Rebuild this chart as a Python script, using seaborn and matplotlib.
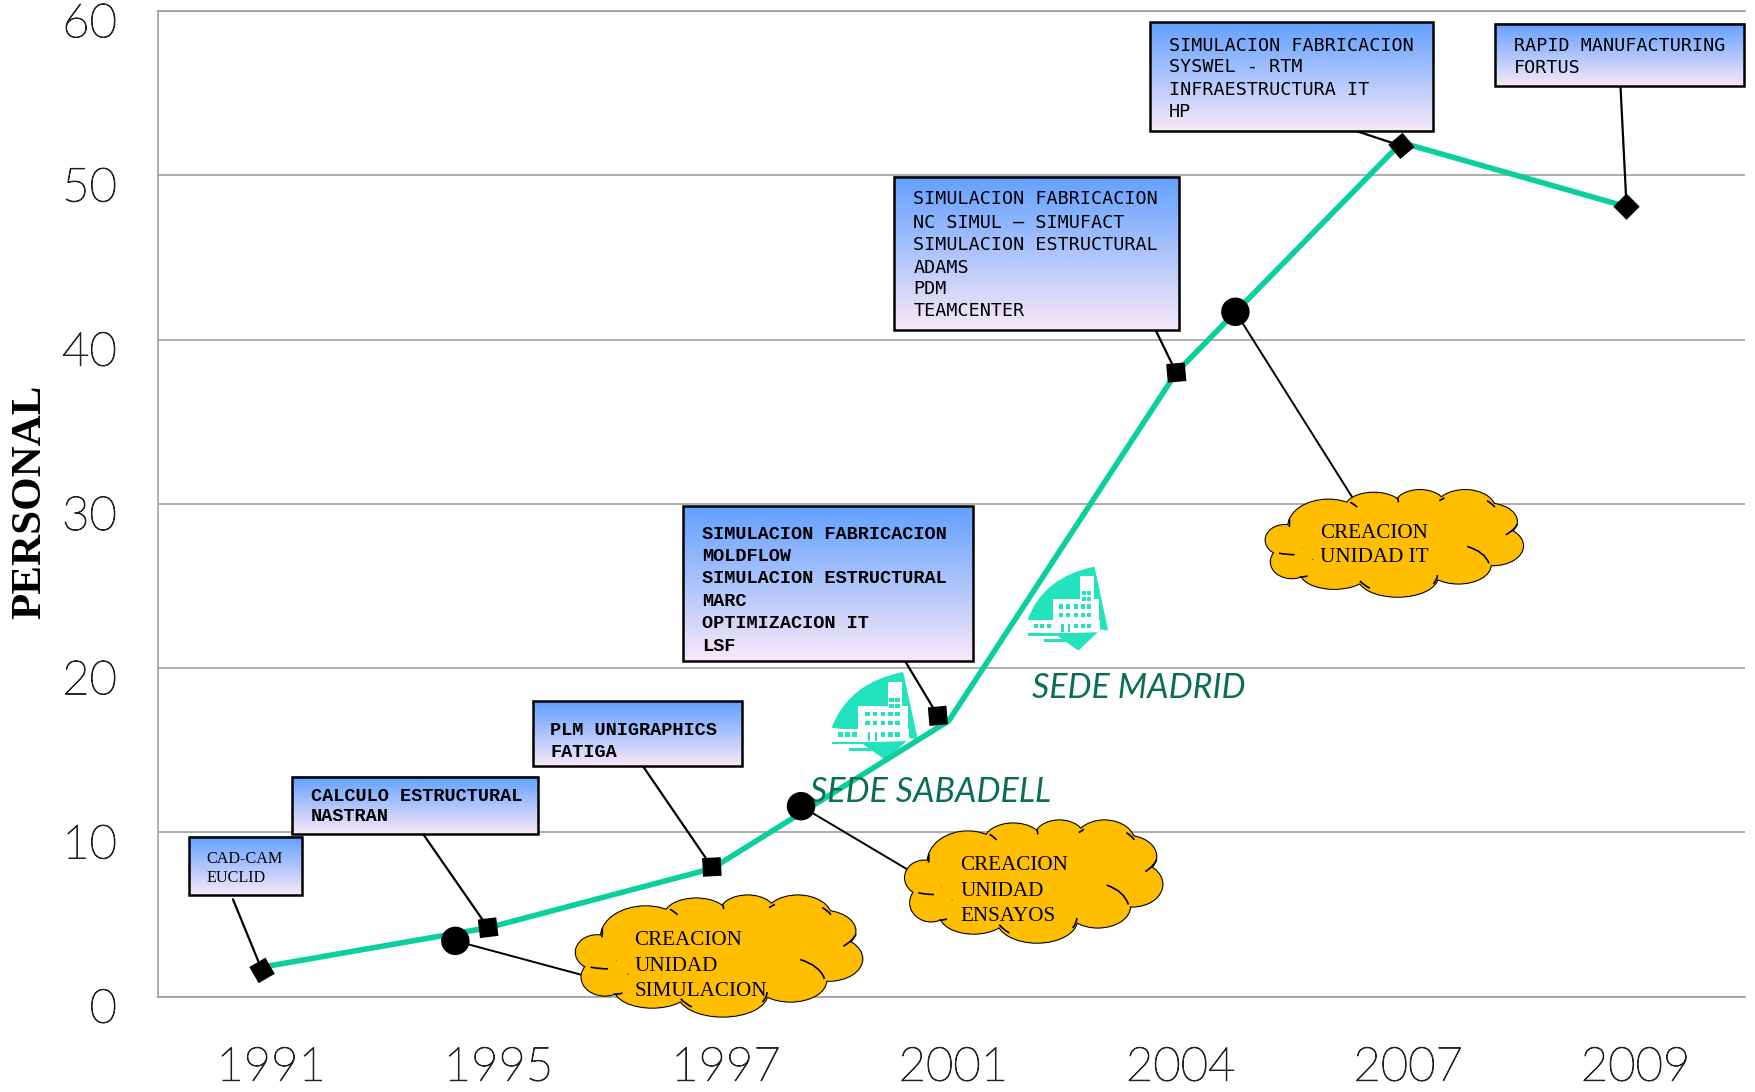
import matplotlib
matplotlib.use('Agg')
import numpy as np
import pandas as pd
import matplotlib.pyplot as plt
import matplotlib.patheffects as pe
import seaborn as sns
from matplotlib.patches import Ellipse, Rectangle, PathPatch
from matplotlib.path import Path
from matplotlib.transforms import Affine2D, ScaledTranslation

# values
years = ['1991', '1995', '1997', '2001', '2004', '2007', '2009']
tick_pos = [0, 1, 2, 3, 4, 5, 6]
marker_pos = [0, 0.994, 1.978, 2.972, 4.02, 5.01, 6]
personal = [1.6, 4.2, 7.9, 17.1, 38.0, 51.8, 48.1]
line_pos = [0, 0.994, 1.978, 3.02, 4.02, 5.01, 6]
line_personal = [1.8, 4.2, 7.8, 16.8, 38.0, 52.0, 48.1]
marker_angles = [75, 52, 48, 50, 50, 85, 90]
milestone_pos = [0.85, 2.37, 4.28]
milestone_personal = [3.4, 11.6, 41.7]
yticks = [0, 10, 20, 30, 40, 50, 60]

# text notes: lines, and where they sit in the 1568x975 view of the reference
boxes = [
    (['CAD-CAM', 'EUCLID'], (169, 747, 270, 799), 185, [766, 783], 'serif'),
    (['CALCULO ESTRUCTURAL', 'NASTRAN'], (261, 694, 481, 745), 278, [710, 728], 'bold'),
    (['PLM UNIGRAPHICS', 'FATIGA'], (476, 626, 663, 684), 492, [651, 671], 'bold'),
    (['SIMULACION FABRICACION', 'MOLDFLOW', 'SIMULACION ESTRUCTURAL', 'MARC', 'OPTIMIZACION IT', 'LSF'],
     (610, 452, 869, 590), 627, [476, 496, 516, 536, 556, 576], 'bold'),
    (['SIMULACION FABRICACION', 'NC SIMUL – SIMUFACT', 'SIMULACION ESTRUCTURAL', 'ADAMS', 'PDM', 'TEAMCENTER'],
     (799, 158, 1053, 295), 816, [177, 198, 218, 238, 257, 277], 'mono'),
    (['SIMULACION FABRICACION', 'SYSWEL - RTM', 'INFRAESTRUCTURA IT', 'HP'],
     (1027, 20, 1280, 117), 1044, [40, 59, 79, 99], 'mono'),
    (['RAPID MANUFACTURING', 'FORTUS'], (1335, 21, 1558, 77), 1352, [40, 60], 'mono'),
]
box_leaders = [(208, 803), (378, 745), (574, 684), (808, 590), (1032, 295), (1211, 117), (1447, 77)]

clouds = [
    (['CREACION', 'UNIDAD', 'SIMULACION'], (515, 800, 770, 908), 567, [839, 862, 884]),
    (['CREACION', 'UNIDAD', 'ENSAYOS'], (809, 733, 1038, 842), 858, [772, 795, 817]),
    (['CREACION', 'UNIDAD IT'], (1131, 438, 1360, 533), 1179, [475, 497]),
]
cloud_leaders = [(525, 872), (813, 778), (1210, 448)]

sites = [('SEDE SABADELL', (743, 600, 820, 679), (724, 707)),
         ('SEDE MADRID', (918, 506, 990, 581), (922, 614))]

# cloud lobes in a unit box: cx, cy, rx, ry
lobes = [(.243, .34, .155, .25), (.42, .165, .11, .14), (.6, .137, .095, .137), (.776, .178, .116, .178),
         (.86, .29, .116, .165), (.884, .52, .116, .178), (.75, .70, .124, .17), (.513, .808, .155, .186),
         (.266, .77, .13, .15), (.10, .67, .08, .15), (.073, .466, .073, .137), (.5, .5, .36, .3)]
# the small inner strokes of the cloud
hooks = [[(.784, .526), (.853, .575), (.869, .685)], [(.935, .416), (.969, .37), (.98, .315)],
         [(.05, .589), (.08, .603), (.111, .603)], [(.861, .096), (.88, .12), (.892, .156)],
         [(.328, .11), (.344, .13), (.355, .156)], [(.513, .07), (.515, .09), (.516, .11)],
         [(.675, .096), (.69, .08), (.695, .068)], [(.668, .795), (.668, .835), (.652, .877)],
         [(.366, .85), (.38, .89), (.405, .918)], [(.162, .803), (.147, .814), (.131, .814)],
         [(.09, .342), (.092, .315), (.091, .27)]]

W, H = 1756, 1092
S = W / 1568
GREEN = '#0ccfa0'
TEAL = '#22e3bd'
ORANGE = '#ffbe00'

sns.set_style('whitegrid', {'grid.color': '#a0a0a0', 'axes.edgecolor': '#a0a0a0'})
fig = plt.figure(figsize=(W / 100, H / 100), dpi=100)
ax = fig.add_axes([141 * S / W, 1 - 890 * S / H, 1417 * S / W, 880 * S / H])
view = Affine2D().scale(S, -S).translate(-0.5, H)

# gradient for the note boxes
top = np.array(matplotlib.colors.to_rgb('#62a0ff'))
bottom = np.array(matplotlib.colors.to_rgb('#f8e8f8'))
ramp = np.linspace(0, 1, 64)[:, None, None]
gradient = top * (1 - ramp) + bottom * ramp

df = pd.DataFrame({'pos': line_pos, 'personal': line_personal})
sns.lineplot(data=df, x='pos', y='personal', sort=False, color=GREEN, lw=4, ax=ax, zorder=4)

fonts = {'serif': dict(family='Liberation Serif', fontsize=11.6),
         'bold': dict(family='Liberation Mono', fontweight='bold', fontsize=13.4),
         'mono': dict(family='DejaVu Sans Mono', fontsize=13.2)}

for (lines, (x0, y0, x1, y1), tx, tys, kind), end, px, py in zip(boxes, box_leaders, marker_pos, personal):
    ax.annotate('', xy=(px, py), xytext=(end[0] * S, H - end[1] * S), textcoords='figure pixels',
                arrowprops=dict(arrowstyle='-', color='black', lw=1.6, shrinkA=0, shrinkB=0), zorder=3)
    im = ax.imshow(gradient, aspect='auto', zorder=5, interpolation='bilinear')
    im.set_extent((x0, x1, y1, y0))
    im.set_transform(view)
    im.set_clip_on(False)
    ax.add_patch(Rectangle((x0, y0), x1 - x0, y1 - y0, fill=False, ec='black', lw=1.8, transform=view,
                           clip_on=False, zorder=6))
    for line, ty in zip(lines, tys):
        ax.text(tx, ty + 1, line, transform=view, va='center', ha='left', color='black', zorder=7, **fonts[kind])

for (lines, (x0, y0, x1, y1), tx, tys), end, px, py in zip(clouds, cloud_leaders, milestone_pos, milestone_personal):
    ax.annotate('', xy=(px, py), xytext=(end[0] * S, H - end[1] * S), textcoords='figure pixels',
                arrowprops=dict(arrowstyle='-', color='black', lw=1.4, shrinkA=0, shrinkB=0), zorder=3)
    w, h = x1 - x0, y1 - y0
    for cx, cy, rx, ry in lobes:
        ax.add_patch(Ellipse((x0 + cx * w, y0 + cy * h), 2 * rx * w, 2 * ry * h, fc='black', ec='black', lw=2.2,
                             transform=view, clip_on=False, zorder=5))
    for cx, cy, rx, ry in lobes:
        ax.add_patch(Ellipse((x0 + cx * w, y0 + cy * h), 2 * rx * w, 2 * ry * h, fc=ORANGE, ec=ORANGE, lw=0.6,
                             transform=view, clip_on=False, zorder=5.5))
    unit = Affine2D().scale(w, h).translate(x0, y0) + view
    for hook in hooks:
        ax.add_patch(PathPatch(Path(hook, [Path.MOVETO, Path.CURVE3, Path.CURVE3]), fc='none', ec='black', lw=1.2,
                               transform=unit, clip_on=False, zorder=6))
    for line, ty in zip(lines, tys):
        ax.text(tx, ty + 1, line, transform=view, va='center', ha='left', family='Liberation Serif', fontsize=15.2,
                color='black', zorder=7)

# building icons, drawn in a unit box
for name, (x0, y0, x1, y1), (tx, ty) in sites:
    w, h = x1 - x0, y1 - y0
    unit = Affine2D().scale(w, h).translate(x0, y0) + view
    sail = Path([(0, .63), (.2, .12), (.83, 0), (1, .76), (0, .63)],
                [Path.MOVETO, Path.CURVE3, Path.CURVE3, Path.LINETO, Path.CLOSEPOLY])
    ax.add_patch(PathPatch(sail, fc=TEAL, ec='none', transform=unit, clip_on=False, zorder=2))
    keel = Path([(.34, .8), (.87, .78), (.63, 1), (.34, .8)],
                [Path.MOVETO, Path.LINETO, Path.LINETO, Path.CLOSEPOLY])
    ax.add_patch(PathPatch(keel, fc=TEAL, ec='none', transform=unit, clip_on=False, zorder=2))
    white = [(.65, .11, .17, .4), (.31, .39, .58, .38), (.0, .64, .9, .13)]
    for rx, ry, rw, rh in white:
        ax.add_patch(Rectangle((rx, ry), rw, rh, fc='white', ec='none', transform=unit, clip_on=False, zorder=2.1))
    stripes = [(.01, .79, .6, .03), (.2, .865, .48, .03), (.42, .68, .03, .1), (.5, .68, .03, .1)]
    for row, col_x in [(.29, [.67, .74]), (.36, [.67, .74]), (.45, [.39, .48, .57, .66, .74]),
                       (.55, [.39, .48, .57, .66, .74]), (.68, [.08, .16, .24, .57, .66, .74])]:
        for cx in col_x:
            stripes.append((cx, row, .05, .05))
    for rx, ry, rw, rh in stripes:
        ax.add_patch(Rectangle((rx, ry), rw, rh, fc=TEAL, ec='none', transform=unit, clip_on=False, zorder=2.2))
    ax.text(tx, ty, name, transform=view, va='center', ha='left', family='Lato', style='italic', fontsize=24.5,
            color='#0a6e55', zorder=5)

# markers on the line
for pos, val, angle in zip(marker_pos, personal, marker_angles):
    sns.scatterplot(x=[pos], y=[val], marker=(4, 0, angle), s=360, color='black', edgecolor='none', ax=ax, zorder=8)
sns.scatterplot(x=milestone_pos, y=milestone_personal, marker='o', s=420, color='black', edgecolor='none',
                ax=ax, zorder=8)

ax.set_xlim(-0.458, 6.52)
ax.set_ylim(0, 60)
ax.set_xticks(tick_pos, years)
ax.set_yticks(yticks)
ax.grid(axis='x', visible=False)
ax.grid(axis='y', lw=1.2)
ax.spines['right'].set_visible(False)
for side in ['left', 'top', 'bottom']:
    ax.spines[side].set_linewidth(1.2)
ax.tick_params(length=0)
ax.tick_params(axis='x', pad=36)
ax.tick_params(axis='y', pad=29.5)
dark = [pe.withStroke(linewidth=0.7, foreground='#222222')]
for lab in ax.get_xticklabels():
    lab.set(family='Lato', fontweight='light', fontsize=34, color='#222222', path_effects=dark)
    lab.set_transform(lab.get_transform() + ScaledTranslation(9 / 100, 0, fig.dpi_scale_trans))
for lab in ax.get_yticklabels():
    lab.set(family='Lato', fontweight='light', fontsize=34, color='#222222', path_effects=dark)
    lab.set_transform(lab.get_transform() + ScaledTranslation(0, -9 / 100, fig.dpi_scale_trans))
ax.set_xlabel('')
ax.set_ylabel('')
fig.text(27 * S / W, 1 - 448 * S / H, 'PERSONAL', rotation=90, va='center', ha='center',
         family='Liberation Serif', fontweight='bold', fontsize=31, color='black')

fig.savefig('out.png', dpi=100)
